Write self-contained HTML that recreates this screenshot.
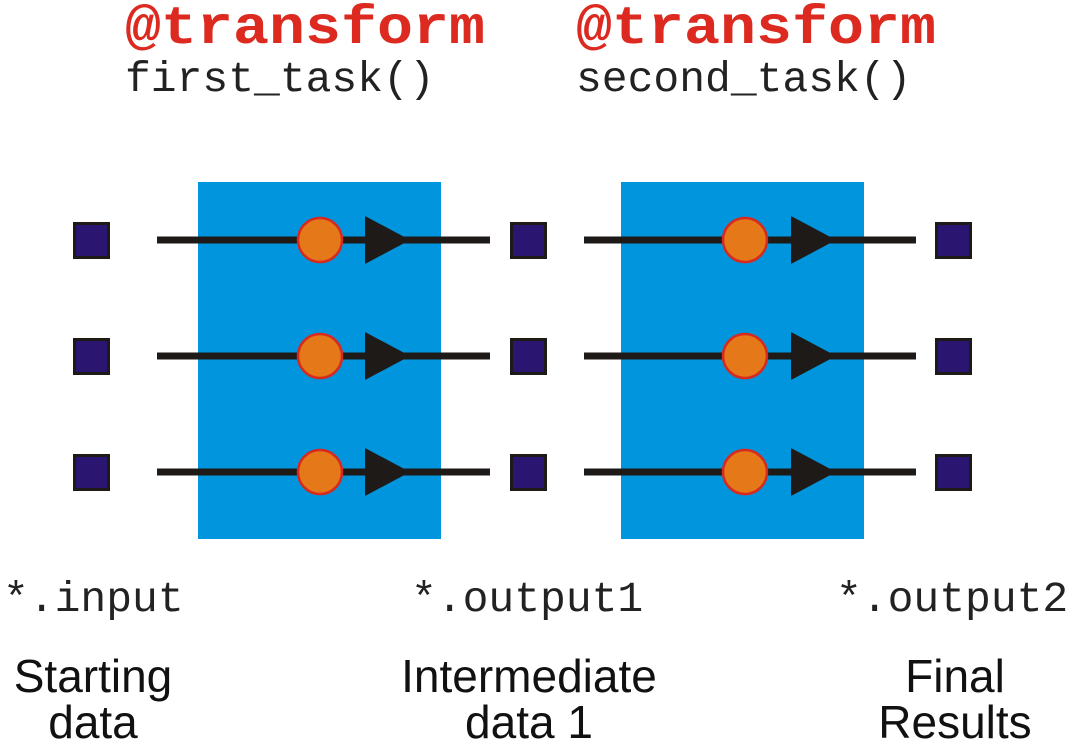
<!DOCTYPE html>
<html><head><style>
body{margin:0;background:#fff;width:1071px;height:742px;overflow:hidden}
</style></head><body>
<svg width="1071" height="742" xmlns="http://www.w3.org/2000/svg">
<g font-family="Liberation Mono, monospace">
<text x="125" y="43" font-size="59" font-weight="bold" fill="#dc2a20" textLength="360" lengthAdjust="spacingAndGlyphs" style="font-size:54px">@transform</text>
<text x="576" y="43" font-size="59" font-weight="bold" fill="#dc2a20" textLength="360" lengthAdjust="spacingAndGlyphs" style="font-size:54px">@transform</text>
<text x="125" y="91" font-size="43" fill="#222">first_task()</text>
<text x="576" y="91" font-size="43" fill="#222">second_task()</text>
<text x="3" y="611" font-size="43" fill="#222">*.input</text>
<text x="411" y="611" font-size="43" fill="#222">*.output1</text>
<text x="836" y="611" font-size="43" fill="#222">*.output2</text>
</g>
<g font-family="Liberation Sans, sans-serif" font-size="46" fill="#111" text-anchor="middle">
<text x="93" y="692">Starting</text><text x="93" y="738">data</text>
<text x="529" y="692">Intermediate</text><text x="529" y="738">data 1</text>
<text x="955" y="692">Final</text><text x="955" y="738">Results</text>
</g>
<rect x="198" y="182" width="243" height="357" fill="#0095dc"/>
<rect x="621" y="182" width="243" height="357" fill="#0095dc"/>
<g id="row">
<line x1="157" y1="240" x2="490" y2="240" stroke="#1e1a18" stroke-width="7"/>
<line x1="584" y1="240" x2="916" y2="240" stroke="#1e1a18" stroke-width="7"/>
<polygon points="365,216 410,240 365,264" fill="#1e1a18"/>
<polygon points="791,216 836,240 791,264" fill="#1e1a18"/>
<circle cx="320" cy="240" r="22" fill="#e57818" stroke="#d62a20" stroke-width="2.5"/>
<circle cx="745" cy="240" r="22" fill="#e57818" stroke="#d62a20" stroke-width="2.5"/>
<rect x="74.5" y="223.5" width="34" height="34" fill="#2a1670" stroke="#1e1a18" stroke-width="3"/>
<rect x="511.5" y="223.5" width="34" height="34" fill="#2a1670" stroke="#1e1a18" stroke-width="3"/>
<rect x="936.5" y="223.5" width="34" height="34" fill="#2a1670" stroke="#1e1a18" stroke-width="3"/>
</g>
<use href="#row" y="116"/>
<use href="#row" y="232"/>
</svg>
</body></html>
